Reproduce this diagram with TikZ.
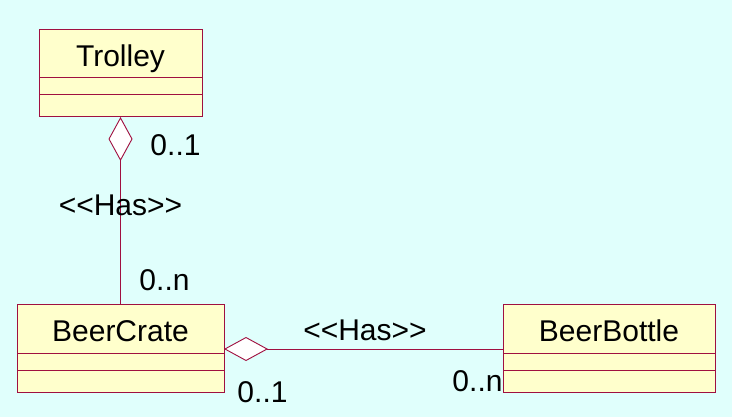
\documentclass[tikz,border=0pt]{standalone}
\usepackage{fontspec}
\setmainfont{Liberation Sans}[Ligatures=TeXOff]
\usetikzlibrary{positioning,arrows.meta}
\definecolor{umlback}{RGB}{224,255,252}
\definecolor{umlfill}{RGB}{255,255,204}
\definecolor{umlline}{RGB}{160,16,64}

\begin{document}
\begin{tikzpicture}[
    x=1pt, y=-1pt,
    font=\fontsize{30}{35}\selectfont,
    box/.style={rectangle, draw=umlline, fill=umlfill, line width=1pt, inner sep=0pt, outer sep=0pt},
    namebox/.style={box, minimum height=48pt, text height=25pt, text depth=0pt},
    attrbox/.style={box, minimum height=17pt},
    opbox/.style={box, minimum height=22pt},
    has/.style={draw=umlline, line width=0.9pt, {Diamond[fill=white, length=44pt, width=24pt]}-},
    mult/.style={inner sep=0pt}
]
\fill[umlback] (0,0) rectangle (732,417);

\node[namebox, minimum width=163pt] (trolley) at (120.5,54) {Trolley};
\node[attrbox, minimum width=163pt, below=0pt of trolley] (trolleyattr) {};
\node[opbox, minimum width=163pt, below=0pt of trolleyattr] (trolleyops) {};

\node[namebox, minimum width=207pt] (crate) at (120.5,329) {BeerCrate};
\node[attrbox, minimum width=207pt, below=0pt of crate] (crateattr) {};
\node[opbox, minimum width=207pt, below=0pt of crateattr] (crateops) {};

\node[namebox, minimum width=212pt] (bottle) at (609,329) {BeerBottle};
\node[attrbox, minimum width=212pt, below=0pt of bottle] (bottleattr) {};
\node[opbox, minimum width=212pt, below=0pt of bottleattr] (bottleops) {};

\draw[has] (trolleyops) --
    node[mult, at start, xshift=55pt, yshift=-28pt] (trolleyone) {0..1}
    node[mult, pos=0.5, yshift=6pt] (hasup) {<<Has>>}
    node[mult, at end, xshift=44pt, yshift=25pt] (craten) {0..n}
    (crate);
\draw[has] ([yshift=-20pt]crate.east) --
    node[mult, at start, xshift=38.5pt, yshift=-43.5pt] (crateone) {0..1}
    node[mult, pos=0.5, above=8pt, xshift=1.5pt] (hasright) {<<Has>>}
    node[mult, at end, xshift=-25.5pt, yshift=-32.5pt] (bottlen) {0..n}
    ([yshift=-20pt]bottle.west);
\end{tikzpicture}
\end{document}
